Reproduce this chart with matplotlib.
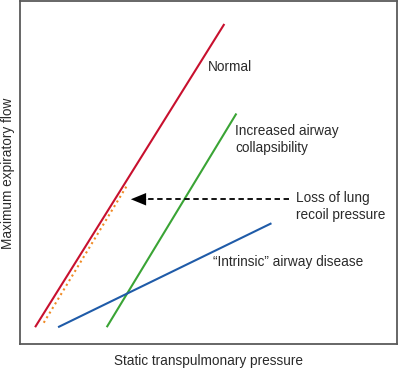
import matplotlib
matplotlib.use("Agg")
from matplotlib import pyplot as plt

plt.rcParams["font.family"] = ["Liberation Sans", "DejaVu Sans"]

# line end points in arbitrary units (0-100 on both axes)
normal_x = [4.0, 54.2]
normal_y = [4.9, 93.3]
recoil_x = [6.3, 28.6]
recoil_y = [6.2, 46.6]
collapse_x = [23.0, 57.4]
collapse_y = [4.9, 67.2]
intrinsic_x = [10.1, 66.7]
intrinsic_y = [4.9, 35.2]
arrow_tail = (71.4, 42.2)
arrow_tip = (29.4, 42.2)

fig = plt.figure(figsize=(3.98, 3.68), dpi=100)
ax = fig.add_axes([20 / 398, 24 / 368, 377 / 398, 343 / 368])
ax.set_xlim(0, 100)
ax.set_ylim(0, 100)
ax.set_xticks([])
ax.set_yticks([])
for s in ax.spines.values():
    s.set_color("#5a5a5a")
    s.set_linewidth(1.3)

ax.plot(normal_x, normal_y, color="#c8102e", lw=1.5, solid_capstyle="butt")
ax.plot(recoil_x, recoil_y, color="#f08a24", lw=1.5, ls=(0, (1.0, 1.6)))
ax.plot(collapse_x, collapse_y, color="#3aa435", lw=1.5, solid_capstyle="butt")
ax.plot(intrinsic_x, intrinsic_y, color="#1f5ba8", lw=1.5, solid_capstyle="butt")

# dashed shaft, then a solid swept head at the tip
ax.plot([arrow_tail[0], arrow_tip[0] + 3], [arrow_tail[1], arrow_tip[1]],
        color="black", lw=1.3, ls=(0, (3, 2)))
ax.annotate("", xy=arrow_tip, xytext=(arrow_tip[0] + 5, arrow_tip[1]),
            arrowprops=dict(arrowstyle="simple,head_length=1.1,head_width=0.9,tail_width=0.01",
                            color="black", shrinkA=0, shrinkB=0, lw=0))

fs = 9.8
tc = "#2a2a2a"
ax.text(49.9, 80.8, "Normal", fontsize=fs, color=tc, va="center")
ax.text(57.0, 59.6, "Increased airway\ncollapsibility", fontsize=fs,
        color=tc, va="center", linespacing=1.3)
ax.text(73.2, 40.1, "Loss of lung\nrecoil pressure", fontsize=fs,
        color=tc, va="center", linespacing=1.3)
ax.text(51.2, 23.8, "\u201cIntrinsic\u201d airway disease", fontsize=fs,
        color=tc, va="center")

fig.text(208 / 398, 1 - 361 / 368, "Static transpulmonary pressure",
         fontsize=fs, color=tc, ha="center", va="center")
fig.text(8 / 398, 1 - 173 / 368, "Maximum expiratory flow", fontsize=fs,
         color=tc, ha="center", va="center", rotation=90)

fig.savefig("out.png", dpi=100)
